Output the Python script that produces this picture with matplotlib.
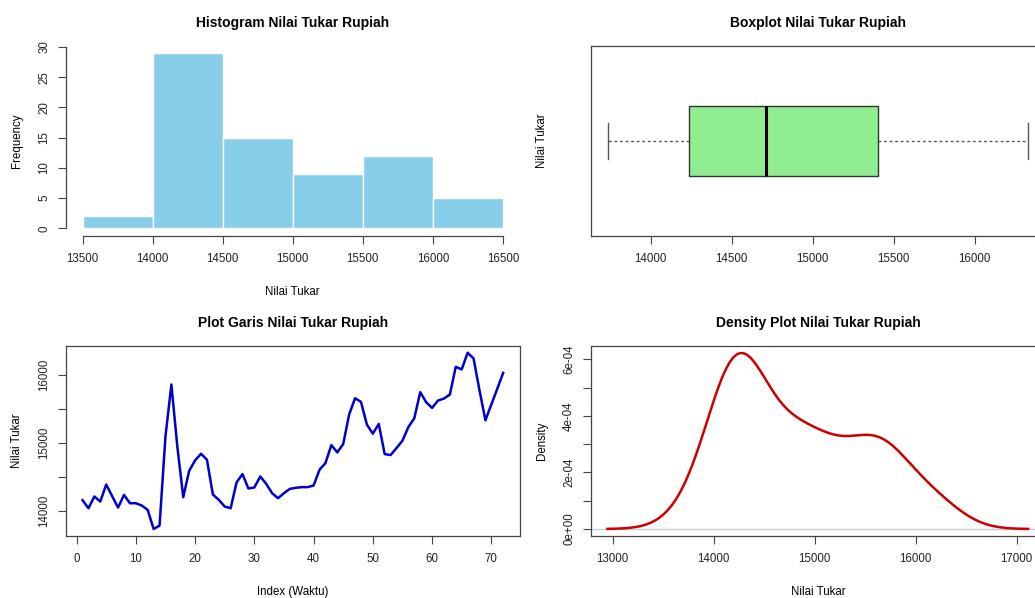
import matplotlib.pyplot as plt
import numpy as np

plt.rcParams['font.family'] = ['Liberation Sans', 'DejaVu Sans']

# nilai tukar rupiah, 72 observasi (dibaca dari plot garis)
index_waktu = list(range(1, 73))
nilai_tukar = [14158, 14039, 14212, 14138, 14389, 14217, 14049, 14236, 14113, 14113,
               14079, 14015, 13734, 13783, 15098, 15862, 14950, 14202, 14591, 14744,
               14842, 14754, 14241, 14163, 14064, 14039, 14419, 14542, 14330, 14345,
               14507, 14399, 14261, 14187, 14261, 14325, 14340, 14350, 14350, 14374,
               14606, 14704, 14970, 14862, 14985, 15419, 15660, 15606, 15271, 15138,
               15281, 14837, 14823, 14926, 15034, 15236, 15365, 15749, 15601, 15517,
               15626, 15655, 15714, 16123, 16084, 16330, 16246, 15778, 15335, 15567,
               15798, 16034]

hist_bins = [13500, 14000, 14500, 15000, 15500, 16000, 16500]
hist_yticks = [0, 5, 10, 15, 20, 25, 30]

# statistik boxplot: min, q1, median, q3, max
box_stats = [13734, 14236, 14713, 15406, 16330]
box_xticks = [14000, 14500, 15000, 15500, 16000]

line_xticks = [0, 10, 20, 30, 40, 50, 60, 70]
line_yticks = [14000, 14500, 15000, 15500, 16000]
line_ylabels = ['14000', '', '15000', '', '16000']

dens_xticks = [13000, 14000, 15000, 16000, 17000]
dens_yticks = [0, 1e-4, 2e-4, 3e-4, 4e-4, 5e-4, 6e-4]
dens_ylabels = ['0e+00', '', '2e-04', '', '4e-04', '', '6e-04']

W, H = 1035, 598
fig = plt.figure(figsize=(W / 100, H / 100), dpi=100)

FS = 8.3
AXC = '#444444'


def kotak(x0, y0, x1, y1):
    return fig.add_axes([x0 / W, 1 - y1 / H, (x1 - x0) / W, (y1 - y0) / H])


def teks(x, y, s, **kw):
    fig.text(x / W, 1 - y / H, s, ha='center', va='center', **kw)


def gaya(ax):
    ax.tick_params(length=5.8, width=0.8, color=AXC, labelsize=FS, labelcolor='#222222')
    ax.tick_params(axis='x', pad=6.5)
    ax.tick_params(axis='y', pad=5.4)
    for s in ax.spines.values():
        s.set_color(AXC)
        s.set_linewidth(0.9)


def r_range(lo, hi):
    d = (hi - lo) * 0.04
    return lo - d, hi + d


# --- histogram ---
ax1 = kotak(65.7, 46, 519.8, 235.5)
ax1.hist(nilai_tukar, bins=hist_bins, color='#87CEEB', edgecolor='white', linewidth=1)
ax1.set_xlim(13380, 16620)
ax1.set_ylim(-1.16, 30.16)
ax1.set_xticks(hist_bins)
ax1.set_yticks(hist_yticks)
ax1.set_yticklabels([str(v) for v in hist_yticks], rotation=90, va='center')
gaya(ax1)
ax1.spines['top'].set_visible(False)
ax1.spines['right'].set_visible(False)
ax1.spines['left'].set_bounds(0, 30)
ax1.spines['bottom'].set_bounds(13500, 16500)
teks(292.7, 22.5, 'Histogram Nilai Tukar Rupiah', fontsize=10, fontweight='bold')
teks(292.7, 291.7, 'Nilai Tukar', fontsize=FS)
teks(16.7, 140.7, 'Frequency', fontsize=FS, rotation=90)

# --- boxplot ---
ax2 = kotak(590.7, 46, 1045, 235.5)
stats = [dict(whislo=box_stats[0], q1=box_stats[1], med=box_stats[2],
              q3=box_stats[3], whishi=box_stats[4], fliers=[])]
ax2.bxp(stats, positions=[0.5], widths=0.37, vert=False, patch_artist=True,
        showfliers=False,
        boxprops=dict(facecolor='#90EE90', edgecolor='#333333', linewidth=1),
        medianprops=dict(color='black', linewidth=2.2),
        whiskerprops=dict(color='#555555', linewidth=1, linestyle=(0, (2, 2))),
        capprops=dict(color='#555555', linewidth=1), capwidths=0.188)
ax2.set_xlim(*r_range(box_stats[0], box_stats[4]))
ax2.set_ylim(0, 1)
ax2.set_xticks(box_xticks)
ax2.set_xticklabels([str(v) for v in box_xticks])
ax2.set_yticks([])
gaya(ax2)
teks(818, 22.5, 'Boxplot Nilai Tukar Rupiah', fontsize=10, fontweight='bold')
teks(541.7, 140.7, 'Nilai Tukar', fontsize=FS, rotation=90)

# --- plot garis ---
ax3 = kotak(65.7, 345.7, 520, 536)
ax3.plot(index_waktu, nilai_tukar, color='#0000CD', linewidth=1.8)
ax3.set_xlim(*r_range(1, 72))
ax3.set_ylim(*r_range(min(nilai_tukar), max(nilai_tukar)))
ax3.set_xticks(line_xticks)
ax3.set_yticks(line_yticks)
ax3.set_yticklabels(line_ylabels, rotation=90, va='center')
gaya(ax3)
teks(292.7, 323.3, 'Plot Garis Nilai Tukar Rupiah', fontsize=10, fontweight='bold')
teks(292.7, 592, 'Index (Waktu)', fontsize=FS)
teks(16.7, 441, 'Nilai Tukar', fontsize=FS, rotation=90)

# --- density (kernel gaussian, bandwidth bw.nrd0 seperti R) ---
data = np.array(nilai_tukar, dtype=float)
q75, q25 = np.percentile(data, [75, 25])
bw = 0.9 * min(data.std(ddof=1), (q75 - q25) / 1.34) * len(data) ** -0.2
gx = np.linspace(data.min() - 3 * bw, data.max() + 3 * bw, 512)
gy = np.exp(-0.5 * ((gx[:, None] - data[None, :]) / bw) ** 2).sum(axis=1)
gy = gy / (len(data) * bw * np.sqrt(2 * np.pi))

ax4 = kotak(590.7, 346, 1045, 536)
ax4.axhline(0, color='#cccccc', linewidth=1)
ax4.plot(gx, gy, color='#CD0000', linewidth=1.8)
ax4.set_xlim(*r_range(gx.min(), gx.max()))
ax4.set_ylim(*r_range(0, gy.max()))
ax4.set_xticks(dens_xticks)
ax4.set_yticks(dens_yticks)
ax4.set_yticklabels(dens_ylabels, rotation=90, va='center')
gaya(ax4)
teks(818, 323.3, 'Density Plot Nilai Tukar Rupiah', fontsize=10, fontweight='bold')
teks(818, 591.7, 'Nilai Tukar', fontsize=FS)
teks(541.7, 441, 'Density', fontsize=FS, rotation=90)

fig.savefig('out.png', dpi=100)
